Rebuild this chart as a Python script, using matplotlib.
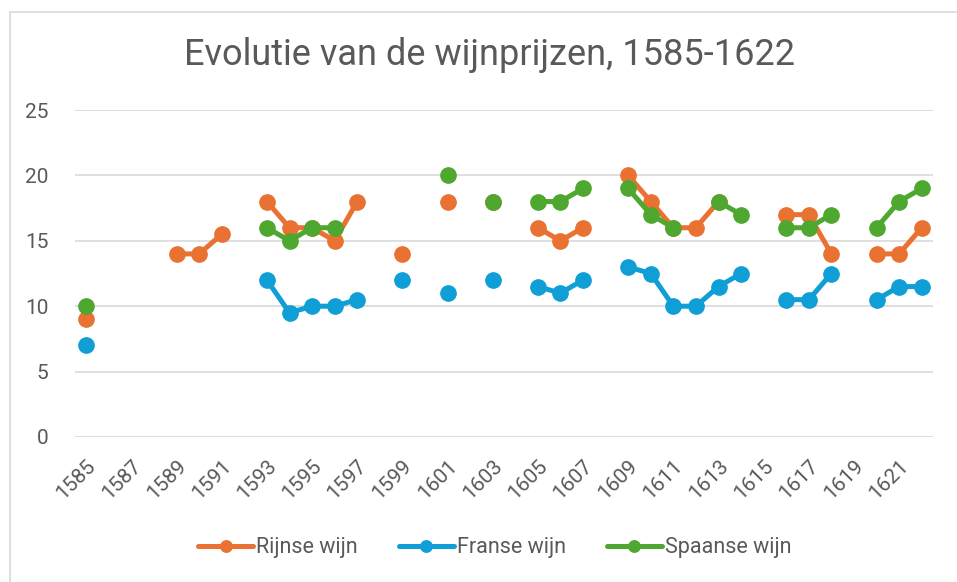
import numpy as np
import matplotlib
matplotlib.use("Agg")
import matplotlib.pyplot as plt
from matplotlib.patches import Rectangle

nan = np.nan
years = list(range(1585, 1623))
rijnse = [9, nan, nan, nan, 14, 14, 15.5, nan, 18, 16, 16, 15, 18, nan, 14, nan, 18, nan, 18, nan,
          16, 15, 16, nan, 20, 18, 16, 16, 18, nan, nan, 17, 17, 14, nan, 14, 14, 16]
franse = [7, nan, nan, nan, nan, nan, nan, nan, 12, 9.5, 10, 10, 10.5, nan, 12, nan, 11, nan, 12, nan,
          11.5, 11, 12, nan, 13, 12.5, 10, 10, 11.5, 12.5, nan, 10.5, 10.5, 12.5, nan, 10.5, 11.5, 11.5]
spaanse = [10, nan, nan, nan, nan, nan, nan, nan, 16, 15, 16, 16, nan, nan, nan, nan, 20, nan, 18, nan,
           18, 18, 19, nan, 19, 17, 16, nan, 18, 17, nan, 16, 16, 17, nan, 16, 18, 19]
series = [("Rijnse wijn", rijnse, "#E97132"),
          ("Franse wijn", franse, "#0F9ED5"),
          ("Spaanse wijn", spaanse, "#4EA72E")]
title = "Evolutie van de wijnprijzen, 1585-1622"

plt.rcParams['font.family'] = ['Roboto', 'DejaVu Sans']
txt = "#595959"

fig = plt.figure(figsize=(9.57, 5.82), dpi=100)
fig.patches.append(Rectangle((10/957, -0.1), 1.2, 1.1 - 12/582, transform=fig.transFigure,
                             fill=False, edgecolor="#D9D9D9", linewidth=1.2))
ax = fig.add_axes([75/957, 1-437/582, 858/957, 327/582])
x = np.arange(len(years))
for name, vals, col in series:
    ax.plot(x, vals, color=col, linewidth=3.6, marker='o', markersize=11,
            solid_capstyle='round', label=name)

ax.set_xlim(-0.5, len(years)-0.5)
ax.set_ylim(0, 25)
ax.set_yticks(range(0, 26, 5))
ax.grid(axis='y', color="#D9D9D9", linewidth=1.2)
ax.set_axisbelow(True)
for s in ax.spines.values():
    s.set_visible(False)
ax.tick_params(length=0, labelsize=15, labelcolor=txt)
ax.tick_params(axis='y', pad=19)
ax.set_xticks(x[::2])
ax.set_xticklabels([str(y) for y in years[::2]], rotation=45, ha='right',
                   rotation_mode='anchor')
ax.tick_params(axis='x', pad=14)

fig.text(490/957, 1-55/582, title, ha='center', va='center', fontsize=26, color=txt)
fig.legend(loc='center', bbox_to_anchor=(495/957, 1-548/582), ncol=3, frameon=False,
           fontsize=15.5, labelcolor=txt, handlelength=2.55, handletextpad=0.15, columnspacing=1.9,
           markerscale=0.75)
fig.savefig("out.png", dpi=100)
